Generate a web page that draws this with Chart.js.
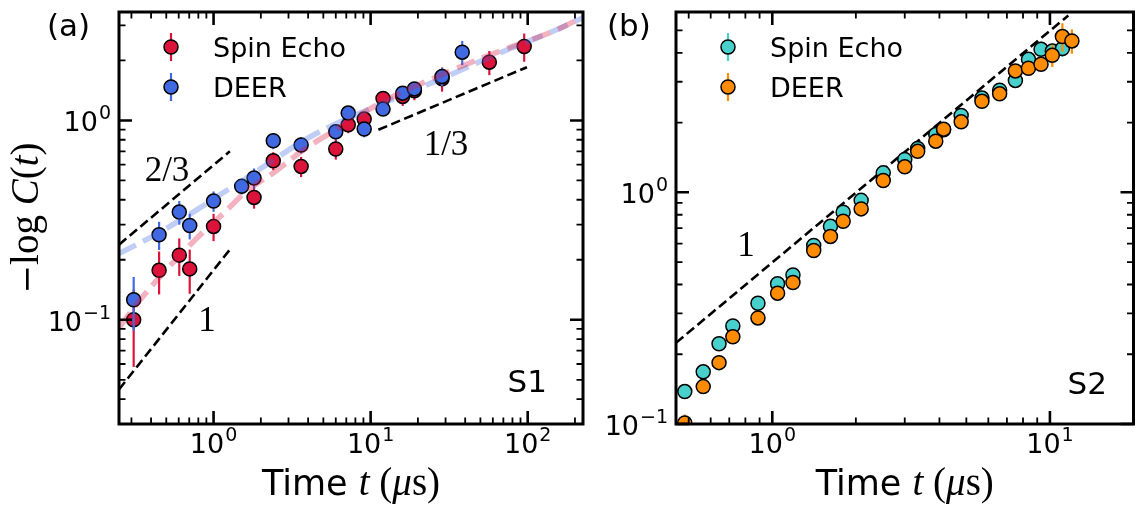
<!DOCTYPE html>
<html>
<head>
<meta charset="utf-8">
<script src="https://cdn.jsdelivr.net/npm/chart.js@4.4.1/dist/chart.umd.min.js"></script>
<style>
  html, body { margin: 0; padding: 0; background: #fff; overflow: hidden; }
  #wrapA { position: absolute; left: 0; top: 0; }
  #wrapB { position: absolute; left: 600px; top: 0; }
</style>
</head>
<body>
<div id="wrapA"><canvas id="panelA" width="600" height="511"></canvas></div>
<div id="wrapB"><canvas id="panelB" width="542" height="511"></canvas></div>
<script>
// ---- S1: spin echo / DEER decay ----
const s1EchoT   = [0.31, 0.45, 0.605, 0.705, 1.0, 1.81, 2.4, 3.61, 6.0, 7.2, 9.1, 12, 16, 19, 28.5, 57, 95];
const s1EchoY   = [0.100, 0.177, 0.211, 0.180, 0.294, 0.411, 0.628, 0.588, 0.719, 0.951, 1.016, 1.29, 1.32, 1.41, 1.62, 1.96, 2.35];
const s1EchoErr = [0.042, 0.043, 0.045, 0.045, 0.046, 0.05, 0.065, 0.068, 0.083, 0.088, 0.082, 0.104, 0.137, 0.147, 0.225, 0.272, 0.38];

const s1DeerT   = [0.31, 0.45, 0.605, 0.705, 1.0, 1.51, 1.81, 2.4, 3.61, 6.0, 7.2, 9.1, 12, 16, 19, 28.5, 38.3];
const s1DeerY   = [0.126, 0.267, 0.347, 0.297, 0.394, 0.467, 0.514, 0.791, 0.753, 0.878, 1.089, 0.906, 1.14, 1.37, 1.44, 1.66, 2.20];
const s1DeerErr = [0.038, 0.043, 0.047, 0.044, 0.046, 0.042, 0.06, 0.073, 0.07, 0.081, 0.088, 0.083, 0.079, 0.111, 0.117, 0.173, 0.305];

// fitted curves
const s1EchoFitT = [0.25, 0.33, 0.445, 0.627, 0.84, 1.126, 1.66, 2.46, 3.72, 5.5, 8.15, 12, 17.8, 23.8, 33.6, 70, 145, 225];
const s1EchoFitY = [0.091, 0.122, 0.161, 0.215, 0.271, 0.335, 0.448, 0.553, 0.71, 0.862, 1.044, 1.241, 1.449, 1.595, 1.80, 2.26, 2.80, 3.30];
const s1DeerFitT = [0.25, 0.40, 0.55, 0.80, 1.13, 1.66, 2.46, 3.72, 5.5, 8.15, 12, 17.8, 23.8, 33.6, 70, 145, 225];
const s1DeerFitY = [0.215, 0.26, 0.30, 0.36, 0.43, 0.52, 0.64, 0.79, 0.93, 1.07, 1.22, 1.39, 1.53, 1.72, 2.22, 2.80, 3.28];

// power-law guides
const guideTwoThirdsT = [0.25, 1.27];
const guideTwoThirdsY = [0.238, 0.70];
const guideOneT       = [0.25, 1.27];
const guideOneY       = [0.0447, 0.225];
const guideOneThirdT  = [11.2, 98.9];
const guideOneThirdY  = [0.898, 1.85];

// ---- S2 ----
const s2EchoT   = [0.484, 0.564, 0.643, 0.721, 0.888, 1.045, 1.187, 1.41, 1.62, 1.80, 2.09, 2.51, 3.0, 3.34, 3.88, 4.14, 4.79, 5.69, 6.59, 7.51, 8.37, 9.29, 10.2, 11.09];
const s2EchoY   = [0.138, 0.168, 0.222, 0.265, 0.332, 0.403, 0.44, 0.590, 0.713, 0.82, 0.923, 1.213, 1.385, 1.545, 1.775, 1.86, 2.146, 2.55, 2.76, 3.04, 3.75, 4.14, 4.07, 4.17];
const s2EchoErr = [0.006, 0.007, 0.009, 0.011, 0.013, 0.016, 0.018, 0.024, 0.029, 0.033, 0.037, 0.05, 0.055, 0.06, 0.07, 0.075, 0.085, 0.1, 0.11, 0.12, 0.15, 0.33, 0.33, 0.33];

const s2DeerT   = [0.484, 0.564, 0.643, 0.721, 0.888, 1.045, 1.187, 1.41, 1.62, 1.80, 2.09, 2.51, 3.0, 3.34, 3.88, 4.14, 4.79, 5.69, 6.59, 7.51, 8.37, 9.29, 10.2, 11.09, 12.0];
const s2DeerY   = [0.101, 0.145, 0.184, 0.238, 0.287, 0.367, 0.408, 0.561, 0.645, 0.75, 0.848, 1.124, 1.288, 1.503, 1.662, 1.872, 2.015, 2.47, 2.66, 3.34, 3.43, 3.57, 3.90, 4.70, 4.50];
const s2DeerErr = [0.009, 0.006, 0.007, 0.01, 0.011, 0.015, 0.016, 0.022, 0.026, 0.03, 0.034, 0.045, 0.05, 0.06, 0.066, 0.075, 0.08, 0.1, 0.11, 0.13, 0.14, 0.2, 0.43, 0.66, 0.54];

const guideS2T = [0.45, 11.65];
const guideS2Y = [0.224, 5.8];

const CRIMSON = '#dc143c', ROYAL = '#4169e1', TURQ = '#48d1cc', ORANGE = '#ff8c00';
const SANS = '"DejaVu Sans"';
const MATH = '"Liberation Serif"';

function pts(xs, ys) { return xs.map((x, i) => ({ x: x, y: ys[i] })); }

function markerSet(label, xs, ys, errs, color, order) {
  return {
    label: label, data: pts(xs, ys), errors: errs, errColor: color,
    showLine: false, pointRadius: 7, pointBorderWidth: 1.5,
    pointBackgroundColor: color, pointBorderColor: '#000',
    order: order, clip: 0
  };
}

function lineSet(xs, ys, color, width, dash, order, tension) {
  return {
    data: pts(xs, ys), showLine: true, borderColor: color, borderWidth: width,
    borderDash: dash, pointRadius: 0, tension: tension || 0, order: order, clip: 0
  };
}

function richWidth(ctx, parts) {
  let w = 0;
  parts.forEach(p => { ctx.font = p[1]; w += ctx.measureText(p[0]).width; });
  return w;
}
function drawRich(ctx, parts, x, y) {
  parts.forEach(p => { ctx.font = p[1]; ctx.fillText(p[0], x, y); x += ctx.measureText(p[0]).width; });
}

// "10" with a raised exponent; anchor is centre (x axis) or right edge (y axis)
function powLabel(ctx, exp, x, y, align) {
  const base = '27px ' + SANS, sup = '19px ' + SANS;
  const e = exp < 0 ? '\u2212' + (-exp) : String(exp);
  ctx.font = base; const wb = ctx.measureText('10').width;
  ctx.font = sup;  const we = ctx.measureText(e).width;
  const w = wb + we + 1;
  let x0 = align === 'center' ? x - w / 2 : x - w;
  ctx.textAlign = 'left';
  ctx.font = base; ctx.fillText('10', x0, y);
  ctx.font = sup;  ctx.fillText(e, x0 + wb + 1, y - 12);
}

function logTicks(min, max) {
  const major = [], minor = [];
  for (let p = Math.floor(Math.log10(min)); p <= Math.ceil(Math.log10(max)); p++) {
    const d = Math.pow(10, p);
    if (d >= min * 0.999 && d <= max * 1.001) major.push(p);
    for (let m = 2; m <= 9; m++) {
      const v = m * d;
      if (v >= min * 0.999 && v <= max * 1.001) minor.push(v);
    }
  }
  return { major, minor };
}

// axes frame, in-pointing ticks on all sides, labels, legend and notes
function framePlugin(cfg) {
  return {
    id: 'frame',
    beforeDatasetDraw(chart, args) {
      const ds = chart.data.datasets[args.index];
      if (!ds.errors) return;
      const ctx = chart.ctx, a = chart.chartArea;
      const xs = chart.scales.x, ys = chart.scales.y;
      ctx.save();
      ctx.beginPath(); ctx.rect(a.left, a.top, a.right - a.left, a.bottom - a.top); ctx.clip();
      ctx.strokeStyle = ds.errColor; ctx.lineWidth = 2.2;
      ds.data.forEach((p, i) => {
        const e = ds.errors[i];
        const px = xs.getPixelForValue(p.x);
        const lo = p.y - e > 0 ? ys.getPixelForValue(p.y - e) : a.bottom + 10;
        const hi = ys.getPixelForValue(p.y + e);
        ctx.beginPath(); ctx.moveTo(px, lo); ctx.lineTo(px, hi); ctx.stroke();
      });
      ctx.restore();
    },
    afterDatasetsDraw(chart) {
      const ctx = chart.ctx, a = chart.chartArea;
      const xs = chart.scales.x, ys = chart.scales.y;
      ctx.save();
      ctx.strokeStyle = '#000'; ctx.fillStyle = '#000';

      // ticks
      const xt = logTicks(xs.min, xs.max), yt = logTicks(ys.min, ys.max);
      const tick = (len, w, xv, yv) => {
        ctx.lineWidth = w;
        xv.forEach(v => {
          const px = xs.getPixelForValue(v);
          ctx.beginPath();
          ctx.moveTo(px, a.bottom); ctx.lineTo(px, a.bottom - len);
          ctx.moveTo(px, a.top); ctx.lineTo(px, a.top + len);
          ctx.stroke();
        });
        yv.forEach(v => {
          const py = ys.getPixelForValue(v);
          ctx.beginPath();
          ctx.moveTo(a.left, py); ctx.lineTo(a.left + len, py);
          ctx.moveTo(a.right, py); ctx.lineTo(a.right - len, py);
          ctx.stroke();
        });
      };
      tick(6.5, 1.8, xt.minor, yt.minor);
      tick(13, 2.6, xt.major.map(p => Math.pow(10, p)), yt.major.map(p => Math.pow(10, p)));

      // spines
      ctx.lineWidth = 3;
      ctx.strokeRect(a.left, a.top, a.right - a.left, a.bottom - a.top);

      // tick labels
      xt.major.forEach(p => powLabel(ctx, p, xs.getPixelForValue(Math.pow(10, p)), a.bottom + 29, 'center'));
      yt.major.forEach(p => powLabel(ctx, p, a.left - 8, ys.getPixelForValue(Math.pow(10, p)) + 11, 'right'));

      // x title
      const xTitle = [['Time ', '35px ' + SANS], ['t', 'italic 39px ' + MATH], [' (', '39px ' + MATH],
                      ['\u03bc', 'italic 39px ' + MATH], ['s)', '39px ' + MATH]];
      const cx = (a.left + a.right) / 2;
      drawRich(ctx, xTitle, cx - richWidth(ctx, xTitle) / 2, 495);

      // y title
      if (cfg.yTitle) {
        const yTitle = [['\u2212', '34px "DejaVu Serif"'], ['log ', '39px ' + MATH], ['C', 'italic 39px ' + MATH],
                        ['(', '39px ' + MATH], ['t', 'italic 39px ' + MATH], [')', '39px ' + MATH]];
        ctx.save();
        ctx.translate(38, (a.top + a.bottom) / 2);
        ctx.rotate(-Math.PI / 2);
        drawRich(ctx, yTitle, -richWidth(ctx, yTitle) / 2, 0);
        ctx.restore();
      }

      // panel tag and sample name
      ctx.font = '31px ' + SANS; ctx.textAlign = 'left';
      ctx.fillText(cfg.tag, cfg.tagX, 36);
      ctx.textAlign = 'right';
      ctx.fillText(cfg.sample, cfg.sampleX, cfg.sampleY);

      // slope notes
      ctx.textAlign = 'center';
      ctx.font = '35px ' + MATH;
      cfg.notes.forEach(n => ctx.fillText(n[0], n[1], n[2]));

      // legend
      ctx.textAlign = 'left';
      cfg.legend.forEach((l, i) => {
        const ly = 47 + i * 40;
        ctx.strokeStyle = l[1]; ctx.lineWidth = 2.2;
        ctx.beginPath(); ctx.moveTo(cfg.legendX, ly - 14); ctx.lineTo(cfg.legendX, ly + 14); ctx.stroke();
        ctx.beginPath(); ctx.arc(cfg.legendX, ly, 7, 0, Math.PI * 2);
        ctx.fillStyle = l[1]; ctx.fill();
        ctx.strokeStyle = '#000'; ctx.lineWidth = 1.5; ctx.stroke();
        ctx.fillStyle = '#000'; ctx.font = '27px ' + SANS;
        ctx.fillText(l[0], cfg.legendX + 42, ly + 10);
      });
      ctx.restore();
    }
  };
}

function baseOptions(pad, xr, yr) {
  return {
    responsive: false, animation: false, events: [],
    layout: { padding: pad },
    plugins: { legend: { display: false }, tooltip: { enabled: false } },
    scales: {
      x: { type: 'logarithmic', min: xr[0], max: xr[1], display: false },
      y: { type: 'logarithmic', min: yr[0], max: yr[1], display: false }
    }
  };
}

const fitDash = [19, 8], guideDash = [9.5, 4.5];

new Chart(document.getElementById('panelA'), {
  type: 'scatter',
  data: {
    datasets: [
      lineSet(s1EchoFitT, s1EchoFitY, 'rgba(220,20,60,0.33)', 5.5, fitDash, 1, 0.35),
      lineSet(s1DeerFitT, s1DeerFitY, 'rgba(65,105,225,0.33)', 5.5, fitDash, 2, 0.35),
      markerSet('DEER', s1DeerT, s1DeerY, s1DeerErr, ROYAL, 3),
      markerSet('Spin Echo', s1EchoT, s1EchoY, s1EchoErr, CRIMSON, 4),
      lineSet(guideTwoThirdsT, guideTwoThirdsY, '#000', 2.6, guideDash, 5),
      lineSet(guideOneT, guideOneY, '#000', 2.6, guideDash, 5),
      lineSet(guideOneThirdT, guideOneThirdY, '#000', 2.6, guideDash, 5)
    ]
  },
  options: baseOptions({ left: 119, right: 17, top: 12, bottom: 87 }, [0.25, 225], [0.03, 3.5]),
  plugins: [framePlugin({
    yTitle: true, tag: '(a)', tagX: 47, sample: 'S1', sampleX: 547, sampleY: 392,
    notes: [['2/3', 167, 181], ['1', 207, 331], ['1/3', 446, 155]],
    legend: [['Spin Echo', CRIMSON], ['DEER', ROYAL]], legendX: 171
  })]
});

new Chart(document.getElementById('panelB'), {
  type: 'scatter',
  data: {
    datasets: [
      markerSet('DEER', s2DeerT, s2DeerY, s2DeerErr, ORANGE, 1),
      markerSet('Spin Echo', s2EchoT, s2EchoY, s2EchoErr, TURQ, 2),
      lineSet(guideS2T, guideS2Y, '#000', 2.6, guideDash, 3)
    ]
  },
  options: baseOptions({ left: 76, right: 3, top: 12, bottom: 87 }, [0.45, 20], [0.1, 6.0]),
  plugins: [framePlugin({
    yTitle: false, tag: '(b)', tagX: 7, sample: 'S2', sampleX: 507, sampleY: 394,
    notes: [['1', 146, 256]],
    legend: [['Spin Echo', TURQ], ['DEER', ORANGE]], legendX: 128
  })]
});
</script>
</body>
</html>
